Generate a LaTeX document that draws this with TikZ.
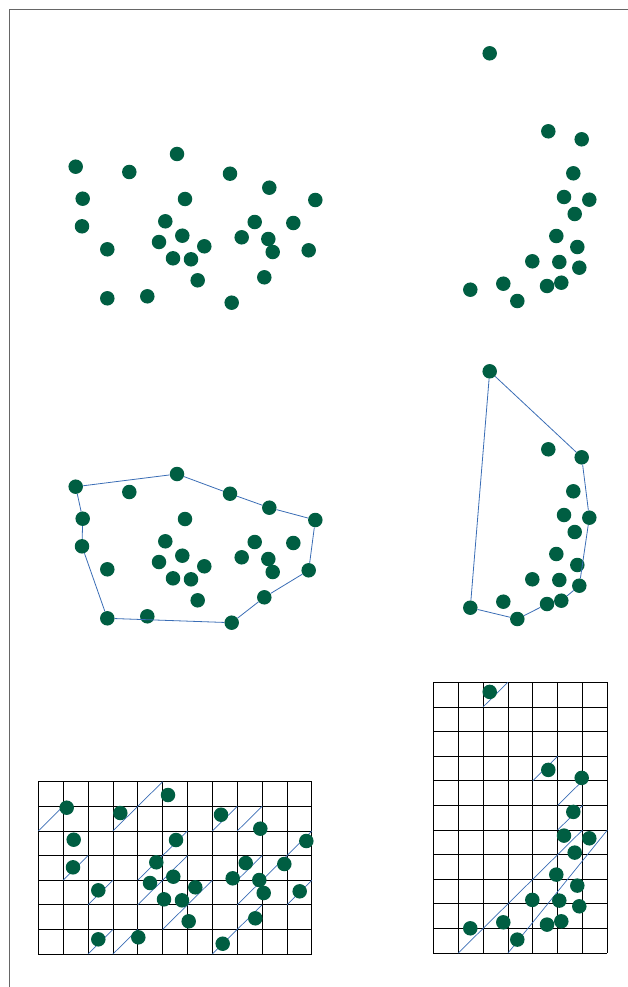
\documentclass[tikz,border=0pt]{standalone}
\definecolor{ptgreen}{HTML}{005E42}
\definecolor{hullblue}{HTML}{3A6DB5}
\definecolor{frgray}{HTML}{666666}

% point sets, in pixel positions of the top row
\def\leftpts{75.7/166.7, 129.3/172, 177/154, 230/173.7, 269.3/187.7, 315.3/200,
  82.7/198.7, 185/199, 82/226.3, 165.3/221.3, 254.7/222, 293.3/223,
  182.3/235.7, 159/242, 241.7/237.3, 268.3/239, 204.3/246.3, 107.3/249.3,
  272.7/252, 308.7/250.3, 173/258.3, 191/259.3, 197.7/280.3, 264.3/277.3,
  107.3/298.3, 147.3/296.3, 231.7/302.7}
\def\rightpts{489.7/53.3, 548.3/131.3, 581.7/139.3, 573.3/173.3, 564/197,
  589.3/199.7, 574.7/214, 556.3/236, 577.3/247, 532.3/261.3, 559.3/262,
  579.3/267.7, 470.3/289.7, 503.3/283.7, 547/286, 561.3/282.7, 517.3/301}

\newcommand\placepts[2]{%
  \foreach \px/\py [count=\i] in #1 \node[dot] (#2\i) at (\px,\py) {};}

\begin{document}
\begin{tikzpicture}[
    x=1pt, y=-1pt,
    dot/.style={circle, fill=ptgreen, inner sep=0pt, minimum size=14.5pt},
    hull/.style={draw=hullblue, line width=0.8pt},
    cellline/.style={draw=black, line width=0.8pt},
    diag/.style={draw=hullblue, line width=0.7pt},
  ]
  \useasboundingbox (0,0) rectangle (628,987);

  % ===== Frame =====
  \draw[frgray, line width=1pt] (9.5,987) -- (9.5,10) -- (628,10);

  % ===== TOP ROW: raw points =====
  \begin{scope}[name prefix=top-]
    \placepts{\leftpts}{l}
    \placepts{\rightpts}{r}
  \end{scope}

  % ===== MIDDLE ROW: hulls =====
  \begin{scope}[shift={(0,320)}, name prefix=mid-]
    \placepts{\leftpts}{l}
    \foreach \a/\b in {1/3, 3/4, 4/5, 5/6, 6/20, 20/24, 24/27, 27/25, 25/9, 9/7, 7/1}
      \draw[hull] (l\a) -- (l\b);
  \end{scope}

  \begin{scope}[shift={(0,318)}, name prefix=mid-]
    \placepts{\rightpts}{r}
    \foreach \a/\b in {1/3, 3/6, 6/12, 12/16, 16/15, 15/17, 17/13, 13/1}
      \draw[hull] (r\a) -- (r\b);
  \end{scope}

  % ===== BOTTOM ROW: grids =====
  % left grid, 11 x 7 cells
  \begin{scope}[shift={(38.3,781.7)}, x=24.87pt, y=-24.62pt]
    \foreach \i in {0,...,11} \draw[cellline] (\i,0) -- (\i,7);
    \foreach \j in {0,...,7} \draw[cellline] (0,\j) -- (11,\j);
    % diagonals: column / row / length
    \foreach \c/\r/\k in {0/1/1, 3/1/2, 7/1/1, 8/1/1, 1/3/1, 4/3/2, 2/4/1,
        4/4/2, 5/5/2, 8/3/1, 8/4/3, 10/4/1, 7/6/2, 2/6/1, 3/6/1}
      \draw[diag] (\c,\r+1) -- (\c+\k,\r+1-\k);
  \end{scope}
  \begin{scope}[shift={(-9,641)}, name prefix=grid-]
    \placepts{\leftpts}{l}
  \end{scope}

  % right grid, 7 x 11 cells
  \begin{scope}[shift={(433.3,682.3)}, x=24.87pt, y=-24.62pt]
    \foreach \i in {0,...,7} \draw[cellline] (\i,0) -- (\i,11);
    \foreach \j in {0,...,11} \draw[cellline] (0,\j) -- (7,\j);
    \foreach \c/\r/\k in {2/0/1, 4/3/1, 5/4/1, 5/5/1, 1/10/5}
      \draw[diag] (\c,\r+1) -- (\c+\k,\r+1-\k);
    \draw[diag] (3,11) -- (7,6);
  \end{scope}
  \begin{scope}[shift={(0,638.6)}, name prefix=grid-]
    \placepts{\rightpts}{r}
  \end{scope}

\end{tikzpicture}
\end{document}
